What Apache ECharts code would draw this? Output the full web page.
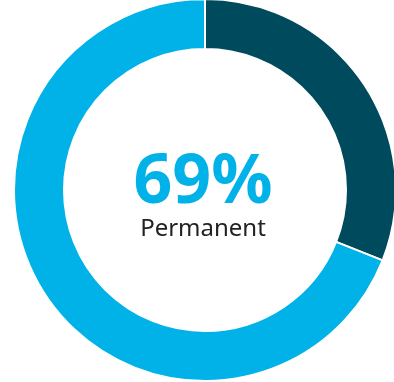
<!DOCTYPE html>
<html>
<head>
<meta charset="UTF-8"/>
<title></title>
<script src="https://cdn.jsdelivr.net/npm/echarts@6/dist/echarts.min.js"></script>
<style>
html,body{margin:0;padding:0;background:#fff;}
#main{width:394px;height:382px;}
</style>
</head>
<body>
<div id="main"></div>
<script type="text/javascript">
// segments, clockwise from 12 o'clock
var names = ['Other', 'Permanent'];
var values = [31, 69];
var colors = ['#004a5e', '#00b2e8'];
var headline = '69%';
var caption = 'Permanent';

var myChart = echarts.init(document.getElementById('main'));
var data = [];
for (var i = 0; i < names.length; i++) {
	data.push({name: names[i], value: values[i], itemStyle: {color: colors[i]}});
}
var option = {
	animation: false,
	series: [
		{
			type: 'pie',
			center: [205, 190],
			radius: [141, 191],
			startAngle: 90,
			clockwise: true,
			label: {show: false},
			labelLine: {show: false},
			emphasis: {disabled: true},
			itemStyle: {borderColor: '#fff', borderWidth: 2},
			data: data
		}
	],
	graphic: [
		{
			type: 'text',
			x: 203, y: 184,
			style: {
				text: headline,
				fill: '#00b2e8',
				font: 'bold 68px "Noto Sans"',
				align: 'center',
				verticalAlign: 'middle'
			}
		},
		{
			type: 'text',
			x: 203, y: 229,
			style: {
				text: caption,
				fill: '#222',
				font: '24px "Noto Sans"',
				align: 'center',
				verticalAlign: 'middle'
			}
		}
	]
};
myChart.setOption(option);
</script>
</body>
</html>
